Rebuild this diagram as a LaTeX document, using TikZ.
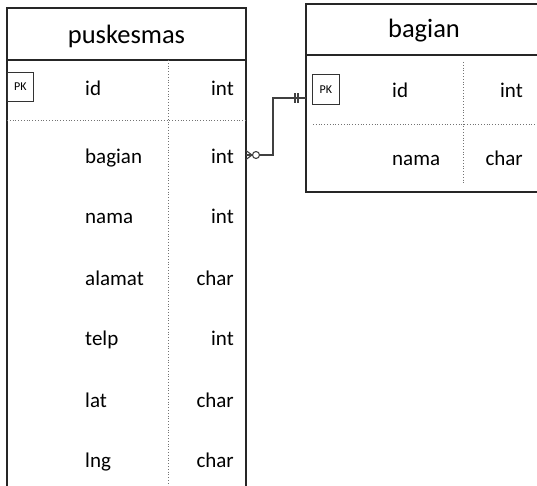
\documentclass[tikz,border=0pt]{standalone}
\usepackage{fontspec}
\setmainfont{Carlito}
\usetikzlibrary{calc}
\begin{document}
\begin{tikzpicture}[x=1pt,y=-1pt,
 tbl/.style={line width=1.1pt, draw=black!85},
 sep/.style={draw=black!55, dotted, line width=0.8pt},
 hdr/.style={font=\fontsize{26.5}{30}\selectfont, anchor=base, text=black, inner sep=0},
 fld/.style={font=\fontsize{21}{25}\selectfont, anchor=base west, inner sep=0, text=black},
 typ/.style={font=\fontsize{21}{25}\selectfont, anchor=base east, inner sep=0, text=black},
 pk/.style={draw=black!80, line width=0.9pt, font=\fontsize{12}{14}\selectfont, minimum width=26pt, minimum height=29pt, inner sep=0, anchor=north west},
 rel/.style={line width=1.1pt, draw=black!75}]
\useasboundingbox (0,0) rectangle (537,485);
\begin{scope}
\clip (0,0) rectangle (537,485);
% ---------- puskesmas ----------
\draw[tbl] (7,500) -- (7,8) -- (246,8) -- (246,500);
\draw[tbl] (7,60) -- (246,60);
\draw[sep] (168,60) -- (168,500);
\draw[sep] (7,120) -- (246,120);
\node[hdr] (ph) at (126.5,43) {puskesmas};
\node[pk] (ppk) at (7,72) {PK};
\node[fld] (pf1) at (85,95) {id};      \node[typ] (pt1) at (234,95) {int};
\node[fld] (pf2) at (85,163) {bagian}; \node[typ] (pt2) at (234,163) {int};
\node[fld] (pf3) at (85,223) {nama};   \node[typ] (pt3) at (234,223) {int};
\node[fld] (pf4) at (85,285) {alamat}; \node[typ] (pt4) at (234,285) {char};
\node[fld] (pf5) at (85,345) {telp};   \node[typ] (pt5) at (234,345) {int};
\node[fld] (pf6) at (85,407) {lat};    \node[typ] (pt6) at (234,407) {char};
\node[fld] (pf7) at (85,467) {lng};    \node[typ] (pt7) at (234,467) {char};
% ---------- bagian ----------
\draw[tbl] (545,4) -- (306,4) -- (306,192) -- (545,192);
\draw[tbl] (306,55) -- (545,55);
\draw[sep] (463,62) -- (463,183);
\draw[sep] (313,124) -- (545,124);
\node[hdr] (bh) at (424,37) {bagian};
\node[pk, minimum width=27pt, minimum height=30pt] (bpkbox) at (312,74) {PK};
\node[fld] (bf1) at (392,97) {id};    \node[typ] (bt1) at (523,97) {int};
\node[fld] (bf2) at (392,165) {nama}; \node[typ] (bt2) at (523,165) {char};
% ---------- relation ----------
\coordinate (pfk) at (246,155);
\coordinate (bpk) at (306,98);
\draw[rel] (pfk) -- ++(27,0) |- (bpk);
\draw[rel] ($(pfk)+(0,-4.5)$) -- ++(6,4.5) -- ++(-6,4.5);
\draw[rel, fill=white] ($(pfk)+(10,0)$) circle[radius=3.5];
\draw[rel] ($(bpk)+(-11,-5)$) -- ++(0,10);
\draw[rel] ($(bpk)+(-8,-5)$) -- ++(0,10);
\end{scope}
\end{tikzpicture}
\end{document}
